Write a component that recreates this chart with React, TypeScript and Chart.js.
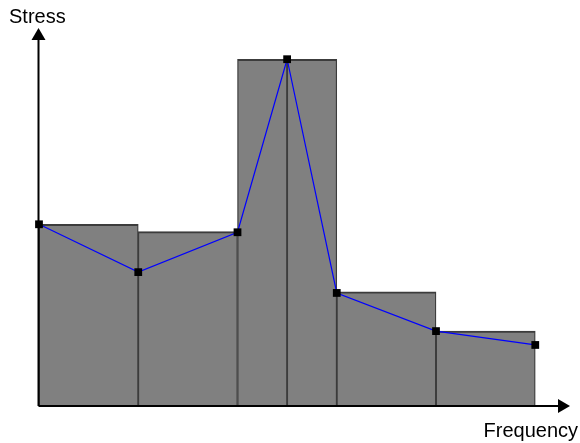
import React, { useEffect, useRef } from "react";
import { Chart, registerables } from "chart.js";

Chart.register(...registerables);

// Histogram bins (unit-width bins centred between edges 0..5)
const wideBinCenters = [0.5, 1.5, 3.5, 4.5];
const wideBinValues = [52.4, 50.3, 32.9, 21.6];
// The central bin is drawn as two half-width bins
const narrowBinCenters = [2.25, 2.75];
const narrowBinValues = [100, 100];

// Polygon line points
const lineX = [0, 1, 2, 2.5, 3, 4, 5];
const lineY = [52.4, 38.6, 50.1, 100, 32.6, 21.6, 17.6];

const yAxisLabel = "Stress";
const xAxisLabel = "Frequency";

const X_MAX = 5.35;
const Y_MAX = 109;

export default function App() {
  const canvasRef = useRef<HTMLCanvasElement | null>(null);

  useEffect(() => {
    const canvas = canvasRef.current;
    if (!canvas) return;

    const axesPlugin = {
      id: "arrowAxes",
      afterDatasetsDraw(chart: any) {
        const { ctx, chartArea } = chart;
        const x0 = chart.scales.xA.getPixelForValue(0);
        const y0 = chart.scales.y.getPixelForValue(0);
        const xEnd = chartArea.right;
        const yEnd = chartArea.top;
        const headLen = 12;
        const headHalf = 7;
        ctx.save();
        ctx.strokeStyle = "#000";
        ctx.fillStyle = "#000";
        ctx.lineWidth = 2;
        ctx.beginPath();
        ctx.moveTo(x0 - 0.5, y0);
        ctx.lineTo(xEnd - headLen + 1, y0);
        ctx.moveTo(x0 - 0.5, y0);
        ctx.lineTo(x0 - 0.5, yEnd + headLen - 1);
        ctx.stroke();
        // x arrow head
        ctx.beginPath();
        ctx.moveTo(xEnd, y0);
        ctx.lineTo(xEnd - headLen, y0 - headHalf);
        ctx.lineTo(xEnd - headLen, y0 + headHalf);
        ctx.closePath();
        ctx.fill();
        // y arrow head
        ctx.beginPath();
        ctx.moveTo(x0 - 0.5, yEnd);
        ctx.lineTo(x0 - 0.5 - headHalf, yEnd + headLen);
        ctx.lineTo(x0 - 0.5 + headHalf, yEnd + headLen);
        ctx.closePath();
        ctx.fill();
        // labels
        ctx.font = '20px "Liberation Sans", Arial, sans-serif';
        ctx.textBaseline = "alphabetic";
        ctx.textAlign = "left";
        ctx.fillText(yAxisLabel, 9, 23);
        ctx.textAlign = "right";
        ctx.fillText(xAxisLabel, 578, 437);
        ctx.restore();
      },
    };

    const barStyle = {
      backgroundColor: "#808080",
      borderColor: "#3c3c3c",
      borderWidth: { top: 2, left: 1.3, right: 1.3, bottom: 0 },
      borderSkipped: false as const,
      barPercentage: 1,
      categoryPercentage: 1,
      grouped: false,
    };

    const chart = new Chart(canvas, {
      type: "bar",
      data: {
        datasets: [
          {
            ...barStyle,
            xAxisID: "xA",
            data: wideBinCenters.map((x, i) => ({ x, y: wideBinValues[i] })),
            order: 2,
          } as any,
          {
            ...barStyle,
            xAxisID: "xB",
            data: narrowBinCenters.map((x, i) => ({ x, y: narrowBinValues[i] })),
            order: 2,
          } as any,
          {
            type: "line",
            xAxisID: "xA",
            data: lineX.map((x, i) => ({ x, y: lineY[i] })),
            borderColor: "#0000ff",
            borderWidth: 1.2,
            tension: 0,
            pointStyle: "rect",
            pointRadius: 5.5,
            pointBackgroundColor: "#000",
            pointBorderWidth: 0,
            clip: false,
            order: 1,
          } as any,
        ],
      },
      options: {
        responsive: false,
        animation: false,
        layout: { padding: { left: 39, right: 10, top: 28, bottom: 37 } },
        plugins: {
          legend: { display: false },
          tooltip: { enabled: false },
          title: { display: false },
        },
        scales: {
          xA: {
            type: "linear",
            display: false,
            min: 0,
            max: X_MAX,
            offset: false,
            ticks: { stepSize: 1, includeBounds: false },
          },
          xB: {
            type: "linear",
            display: false,
            min: 0,
            max: X_MAX,
            offset: false,
            ticks: { stepSize: 0.5, includeBounds: false },
          },
          y: {
            type: "linear",
            display: false,
            min: 0,
            max: Y_MAX,
          },
        },
      } as any,
      plugins: [axesPlugin],
    });

    return () => chart.destroy();
  }, []);

  return (
    <div style={{ position: "fixed", left: 0, top: 0, width: 580, height: 443, background: "#fff" }}>
      <canvas ref={canvasRef} width={580} height={443} style={{ display: "block" }} />
    </div>
  );
}
